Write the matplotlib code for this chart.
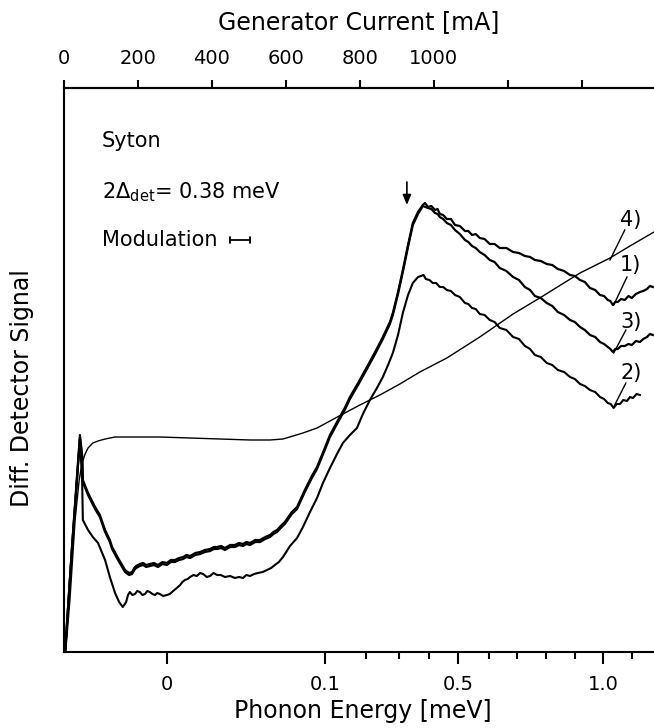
import matplotlib
matplotlib.use('Agg')
import matplotlib.pyplot as plt

# ---------------- data (x: generator current in mA, y: signal in arb. units) ----------------
c1_x = [3, 22, 43, 49, 51, 65, 84, 97, 111, 124, 130, 146, 165, 176, 184, 190, 195, 205, 214, 222,
        232, 243, 254, 266, 278, 289, 300, 311, 322, 331, 341, 355, 368, 381, 395, 405, 414, 425,
        435, 449, 462, 473, 484, 493, 503, 517, 530, 544, 557, 566, 576, 586, 597, 616, 630, 651,
        670, 684, 705, 719, 738, 759, 773, 795, 819, 841, 862, 881, 889, 903, 916, 930, 943, 957,
        970, 976, 984, 993, 1003, 1010, 1016, 1025, 1035, 1046, 1057, 1070, 1084, 1093, 1103, 1113,
        1124, 1137, 1151, 1164, 1178, 1196, 1214, 1230, 1246, 1260, 1273, 1289, 1305, 1320, 1335,
        1352, 1368, 1381, 1395, 1408, 1422, 1436, 1449, 1460, 1470, 1477, 1484, 1490, 1497, 1506,
        1516, 1526, 1535, 1546, 1557, 1566, 1576, 1584, 1592]
c1_y = [0, 107, 217, 197, 172, 159, 145, 137, 122, 112, 105, 94, 82, 79, 80, 84, 86, 88, 89, 87,
        88, 89, 87, 90, 89, 92, 92, 94, 95, 97, 96, 99, 100, 102, 103, 105, 105, 106,
        104, 107, 107, 109, 108, 110, 109, 112, 112, 115, 117, 120, 122, 126, 130, 140, 145, 162,
        176, 185, 204, 217, 230, 244, 255, 269, 285, 300, 315, 330, 339, 360, 382, 407, 429, 440,
        447, 449, 445, 446, 442, 443, 438, 437, 433, 433, 427, 426, 421, 421, 417, 418,
        414, 413, 408, 408, 404, 404, 400, 399, 396, 395, 392, 391, 388, 387, 383,
        381, 377, 376, 372, 370, 364, 362, 357, 356, 352, 351, 347, 350, 350, 353,
        352, 356, 354, 358, 360, 361, 363, 366, 365]

c3_x = [3, 22, 43, 49, 51, 65, 84, 97, 111, 124, 130, 146, 165, 176, 184, 190, 195, 205, 214, 222,
        232, 243, 254, 266, 278, 289, 300, 311, 322, 331, 341, 355, 368, 381, 395, 405, 414, 425,
        435, 449, 462, 473, 484, 493, 503, 517, 530, 544, 557, 566, 576, 586, 597, 616, 630, 651,
        670, 684, 705, 719, 738, 759, 773, 795, 819, 841, 862, 881, 889, 903, 916, 930, 943, 957,
        970, 984, 993, 1003, 1010, 1016, 1025, 1035, 1046, 1057, 1070, 1084, 1093, 1103, 1113,
        1124, 1137, 1151, 1164, 1178, 1196, 1214, 1230, 1246, 1260, 1273, 1289, 1305, 1320, 1335,
        1352, 1368, 1381, 1395, 1408, 1422, 1436, 1449, 1460, 1470, 1477, 1484, 1490, 1497, 1506,
        1516, 1526, 1535, 1546, 1557, 1566, 1576, 1584, 1592]
c3_y = [0, 105, 214, 195, 170, 157, 143, 135, 120, 110, 103, 92, 80, 77, 78, 82, 84, 86, 87, 85,
        86, 87, 85, 88, 87, 90, 90, 92, 93, 95, 94, 97, 98, 100, 101, 103, 103, 104,
        102, 105, 105, 107, 106, 108, 107, 110, 110, 113, 115, 118, 120, 124, 128, 138, 143, 160,
        174, 183, 202, 215, 228, 242, 253, 267, 283, 298, 313, 328, 337, 358, 380, 405, 427, 438,
        446, 444, 443, 439, 438, 435, 433, 429, 427, 422, 418, 412, 410, 406, 404,
        400, 397, 392, 390, 384, 381, 375, 372, 365, 362, 356, 354, 349, 346, 340,
        337, 332, 330, 325, 322, 317, 315, 310, 308, 305, 303, 300, 303, 303, 306,
        306, 308, 307, 311, 310, 313, 315, 318, 317]

c2_x = [3, 22, 43, 49, 51, 65, 78, 92, 111, 124, 138, 149, 159, 168, 173, 178, 185, 192, 198, 205,
        212, 219, 225, 232, 239, 246, 252, 259, 268, 278, 286, 295, 305, 314, 320, 327, 334, 341,
        350, 359, 368, 376, 386, 395, 404, 414, 424, 435, 449, 462, 473, 484, 493, 503, 514, 524,
        537, 549, 560, 570, 581, 592, 611, 630, 646, 665, 684, 700, 719, 738, 754, 773, 792, 808,
        827, 846, 862, 876, 889, 903, 916, 930, 943, 957, 965, 972, 978, 988, 997, 1006, 1016,
        1025, 1035, 1046, 1057, 1070, 1084, 1093, 1103, 1113, 1124, 1137, 1151, 1164, 1178, 1196,
        1214, 1230, 1246, 1260, 1273, 1289, 1305, 1320, 1335, 1352, 1368, 1381, 1395, 1408, 1422,
        1436, 1449, 1460, 1470, 1478, 1486, 1494, 1503, 1512, 1522, 1530, 1538, 1548, 1557]
c2_y = [0, 107, 212, 172, 132, 122, 115, 109, 92, 75, 59, 50, 45, 50, 57, 60, 57, 58, 61, 60,
        57, 58, 61, 60, 58, 57, 59, 58, 56, 57, 58, 61, 64, 67, 70, 72, 73, 75,
        77, 76, 79, 78, 75, 76, 79, 77, 77, 75, 76, 74, 75, 74, 77, 76, 78, 79,
        80, 82, 84, 87, 90, 95, 106, 114, 125, 140, 154, 169, 184, 198, 209, 217, 224, 238,
        252, 264, 275, 287, 299, 317, 339, 357, 369, 375, 376, 377, 373, 372, 369, 369, 365,
        365, 362, 361, 357, 355, 349, 348, 344, 343, 338, 337, 332, 330, 324, 322,
        315, 313, 306, 303, 297, 295, 289, 287, 282, 280, 275, 273, 268, 266, 262,
        260, 255, 253, 249, 248, 244, 248, 248, 252, 251, 255, 254, 258, 257]

c4_x = [5, 16, 30, 41, 49, 57, 65, 78, 92, 111, 138, 192, 259, 341, 422, 503, 557, 592, 619, 646,
        684, 719, 759, 800, 854, 908, 962, 1035, 1124, 1214, 1286, 1395, 1476, 1530, 1595]
c4_y = [2, 52, 132, 172, 189, 198, 204, 209, 211, 213, 215, 215, 215, 214, 213, 212, 212, 213, 216, 219,
        224, 231, 239, 247, 257, 268, 280, 294, 315, 338, 354, 379, 394, 406, 420]

top_ticks = [0, 200, 400, 600, 800, 1000, 1200, 1400]
top_labels = ['0', '200', '400', '600', '800', '1000', '', '']
energy_major_pos = [278, 705, 1065, 1457]
energy_major_lab = ['0', '0.1', '0.5', '1.0']
energy_minor_pos = [816, 905, 986, 1149, 1224, 1303, 1381, 1535]

curve_labels = ['4)', '1)', '3)', '2)']
label_xy = [(1532, 432), (1532, 387), (1532, 330), (1532, 279)]
leader_from = [(1516, 422), (1522, 375), (1519, 322), (1519, 269)]
leader_to = [(1476, 392), (1486, 347), (1486, 299), (1486, 245)]

arrow_x = 927
modulation = (449, 503)

# ---------------- figure ----------------
plt.rcParams['font.family'] = ['DejaVu Sans']
fig = plt.figure(figsize=(6.54, 7.28), dpi=100)
ax = fig.add_axes([64/654, 1-652/728, 1-64/654, (652-88)/728])
ax.set_xlim(0, 1595)
ax.set_ylim(0, 564)

ax.plot(c4_x, c4_y, color='black', lw=1.0)
ax.plot(c2_x, c2_y, color='black', lw=1.5)
ax.plot(c3_x, c3_y, color='black', lw=1.6)
ax.plot(c1_x, c1_y, color='black', lw=1.6)

for s in ['left', 'top', 'bottom']:
    ax.spines[s].set_linewidth(1.5)
ax.spines['right'].set_visible(False)
ax.set_yticks([])

ax.set_xticks(energy_major_pos, energy_major_lab, fontsize=14)
ax.set_xticks(energy_minor_pos, minor=True)
ax.tick_params(axis='x', which='major', direction='out', length=8.5, width=1.5, pad=8)
ax.tick_params(axis='x', which='minor', direction='out', length=5, width=1.5)

sec = ax.secondary_xaxis('top')
sec.set_xticks(top_ticks, top_labels, fontsize=14)
sec.tick_params(axis='x', direction='out', length=5.5, width=1.5, pad=9)
sec.spines['top'].set_linewidth(1.5)

fig.text(359/654, 1-22/728, 'Generator Current [mA]', ha='center', va='center', fontsize=17)
fig.text(363/654, 1-711/728, 'Phonon Energy [meV]', ha='center', va='center', fontsize=17)
fig.text(22/654, 1-388/728, 'Diff. Detector Signal', ha='center', va='center', fontsize=17,
         rotation=90)

ax.text(103, 511, 'Syton', fontsize=15, va='center', ha='left')
ax.text(103, 460, r'2$\Delta_{\rm det}$= 0.38 meV', fontsize=15, va='center', ha='left')
ax.text(103, 412, 'Modulation', fontsize=15, va='center', ha='left')
ax.annotate('', xy=(modulation[1], 412), xytext=(modulation[0], 412),
            arrowprops=dict(arrowstyle='|-|, widthA=0.25, widthB=0.25', lw=1.3, color='black',
                            shrinkA=0, shrinkB=0))

ax.annotate('', xy=(arrow_x, 447), xytext=(arrow_x, 470),
            arrowprops=dict(arrowstyle='-|>, head_width=0.25, head_length=0.6', lw=1.2,
                            color='black', shrinkA=0, shrinkB=0))

for lab, (tx, ty), (fx, fy), (ex, ey) in zip(curve_labels, label_xy, leader_from, leader_to):
    ax.text(tx, ty, lab, fontsize=15, ha='center', va='center')
    ax.plot([fx, ex], [fy, ey], color='black', lw=1.0)

fig.savefig('out.png', dpi=100)
